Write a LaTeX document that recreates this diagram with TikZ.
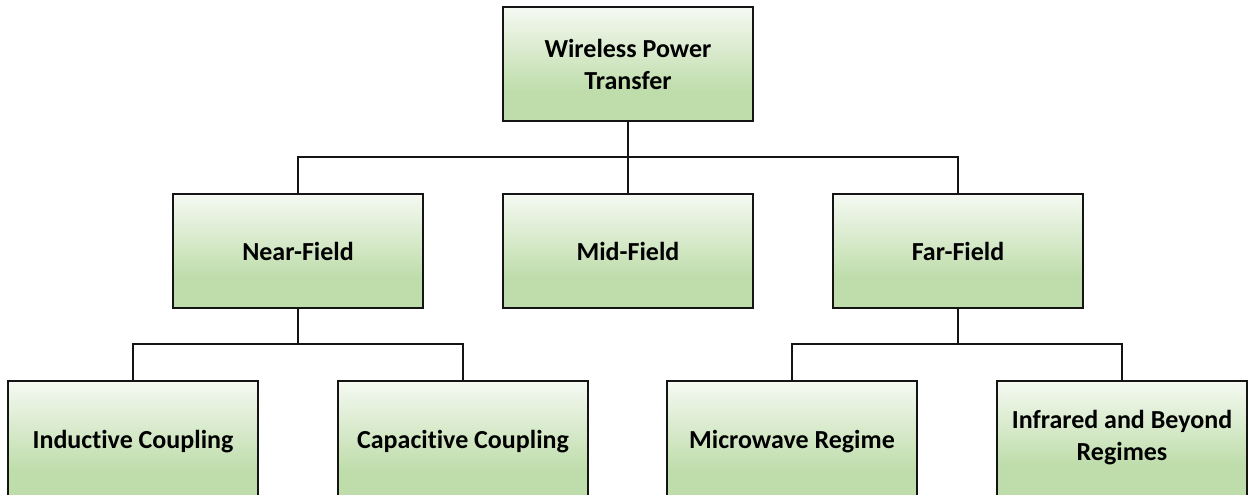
\documentclass[tikz,border=0pt]{standalone}
\usepackage{fontspec}
\setmainfont[Ligatures=NoCommon]{Carlito}
\definecolor{gT}{RGB}{245,249,242}
\definecolor{gB}{RGB}{191,221,171}
\definecolor{lineC}{RGB}{20,20,20}
\pgfdeclareverticalshading{boxgrad}{100bp}{color(0bp)=(gB); color(25bp)=(gB); color(38.5bp)=(gB); color(75bp)=(gT); color(100bp)=(gT)}
\tikzset{
  boxbase/.style={shading=boxgrad, rectangle,
    minimum width=187.5pt, minimum height=85.5pt, align=center, inner sep=2pt,
    font=\fontsize{19.5}{24}\selectfont\bfseries},
  box/.style={boxbase, draw=lineC, line width=1.5pt},
  lowbox/.style={boxbase},
  tallbox/.style={boxbase, minimum height=91.5pt},
  edge3/.style={draw=lineC, line width=1.5pt},
  conn/.style={draw=lineC, line width=1.1pt}
}
\begin{document}
\begin{tikzpicture}[x=0.75pt,y=-0.75pt]
\useasboundingbox (0,0) rectangle (1251,495);
\fill[white] (0,0) rectangle (1251,495);
% top
\node[box] (wpt) at (628,64.5) {Wireless Power\\Transfer};
% middle row
\node[box] (near) at (298,251) {Near-Field};
\node[box] (mid) at (628,251) {Mid-Field};
\node[box] (far) at (958,251) {Far-Field};
% bottom row (cut off at the lower edge)
\node[tallbox] (ind) at (133,442) {Inductive Coupling};
\node[tallbox] (cap) at (463,442) {Capacitive Coupling};
\node[tallbox] (mic) at (792,442) {Microwave Regime};
\node[lowbox] (ir) at (1122,438) {Infrared and Beyond\\Regimes};
\foreach \n in {ind,cap,mic,ir}
  \draw[edge3] ([yshift=-8pt]\n.south west) -- (\n.north west) -- (\n.north east) -- ([yshift=-8pt]\n.south east);
% junctions
\coordinate (j1) at (628,157);
\coordinate (j2) at (298,344);
\coordinate (j3) at (958,344);
% connectors
\draw[conn] (wpt.south) -- (mid.north);
\draw[conn] (near.north) |- (j1) -| (far.north);
\draw[conn] (near.south) -- (j2);
\draw[conn] (ind.north) |- (j2) -| (cap.north);
\draw[conn] (far.south) -- (j3);
\draw[conn] (mic.north) |- (j3) -| (ir.north);
\end{tikzpicture}
\end{document}
